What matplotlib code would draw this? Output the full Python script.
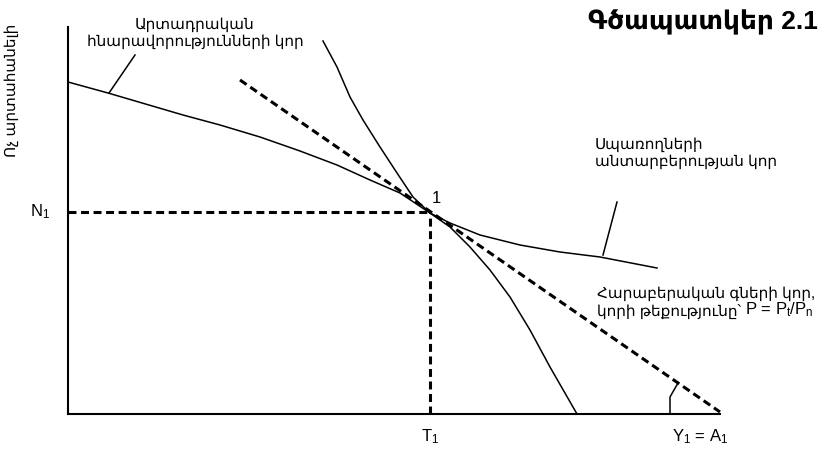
import matplotlib
matplotlib.use('Agg')
import matplotlib.pyplot as plt

plt.rcParams['font.family'] = ['Liberation Sans', 'DejaVu Sans']
plt.rcParams['mathtext.fontset'] = 'custom'
plt.rcParams['mathtext.rm'] = 'Liberation Sans'
plt.rcParams['mathtext.it'] = 'Liberation Sans'

# curve points (origin at the axes corner, units ~ pixels)
flat_x = [0, 40, 115, 152, 192, 232, 269, 302, 332, 362, 382, 412, 452, 492, 532, 589]
flat_y = [332, 321, 299, 289, 277, 263, 249, 234, 221, 201, 191, 179, 169, 162, 157, 146]

steep_x = [255, 269, 282, 295, 312, 329, 345, 362, 382, 402, 422, 442, 462, 482, 509]
steep_y = [373, 347, 317, 294, 267, 241, 217, 201, 187, 167, 144, 117, 84, 47, 0]

price_x = [172, 652]
price_y = [334, 2]

point_x, point_y = 362, 202

title = 'Գծապատկեր 2.1'
y_label = 'Ոչ արտահանելի'
ppf_label = 'Արտադրական\nհնարավորությունների կոր'
indiff_label = 'Սպառողների\nանտարբերության կոր'
price_line1 = 'Հարաբերական գների կոր,'
price_line2 = 'կորի թեքությունը՝ '
price_formula = r'P = P$_t$/P$_n$'

fig = plt.figure(figsize=(8.29, 4.51), dpi=100)
ax = fig.add_axes([68 / 829, 37 / 451, 652 / 829, 387 / 451])
ax.set_xlim(0, 652)
ax.set_ylim(0, 387)
for s in ['top', 'right']:
    ax.spines[s].set_visible(False)
for s in ['left', 'bottom']:
    ax.spines[s].set_linewidth(1.5)
ax.set_xticks([])
ax.set_yticks([])

lw = 1.1
ax.plot(flat_x, flat_y, color='black', lw=lw, solid_joinstyle='round', clip_on=False)
ax.plot(steep_x, steep_y, color='black', lw=lw, solid_joinstyle='round', clip_on=False)
ax.plot(price_x, price_y, color='black', lw=2.2, dashes=(2.6, 1.5), clip_on=False)

# dashed guides to the axes
ax.plot([0, point_x], [point_y, point_y], color='black', lw=2.2, dashes=(2.6, 1.5))
ax.plot([point_x, point_x], [0, point_y], color='black', lw=2.2, dashes=(2.6, 1.5))

# pointer lines
ax.plot([67, 41], [359, 321], color='black', lw=lw, clip_on=False)
ax.plot([549, 535], [212, 159], color='black', lw=lw, clip_on=False)
# angle mark
ax.plot([602, 602, 610], [0, 17, 31], color='black', lw=lw, clip_on=False)

fs = 11
fs_sym = 12
ax.text(127, 381, ppf_label, ha='center', va='center', fontsize=fs,
        linespacing=1.2, clip_on=False)
ax.text(527, 261, indiff_label, ha='left', va='center', fontsize=fs,
        linespacing=1.2, clip_on=False)
ax.text(529, 116, price_line1, ha='left', va='baseline', fontsize=fs, clip_on=False)
t2 = ax.text(529, 98, price_line2, ha='left', va='baseline', fontsize=fs, clip_on=False)
ax.annotate(price_formula, xy=(1, 0), xycoords=t2, xytext=(0, 0),
            textcoords='offset points', ha='left', va='bottom', fontsize=fs_sym)

ax.text(368, 216, '1', ha='center', va='center', fontsize=fs_sym)
ax.text(-28, point_y, r'N$_1$', ha='center', va='center', fontsize=fs_sym, clip_on=False)
ax.text(point_x, -23, r'T$_1$', ha='center', va='center', fontsize=fs_sym, clip_on=False)
ax.text(632, -23, r'Y$_1$ = A$_1$', ha='center', va='center', fontsize=fs_sym, clip_on=False)
ax.text(-56, 324, y_label, rotation=90, ha='center', va='center', fontsize=fs,
        clip_on=False)

fig.text(818 / 829, 1 - 22 / 451, title, ha='right', va='center',
         fontsize=19, fontweight='bold')

fig.savefig('out.png', dpi=100)
